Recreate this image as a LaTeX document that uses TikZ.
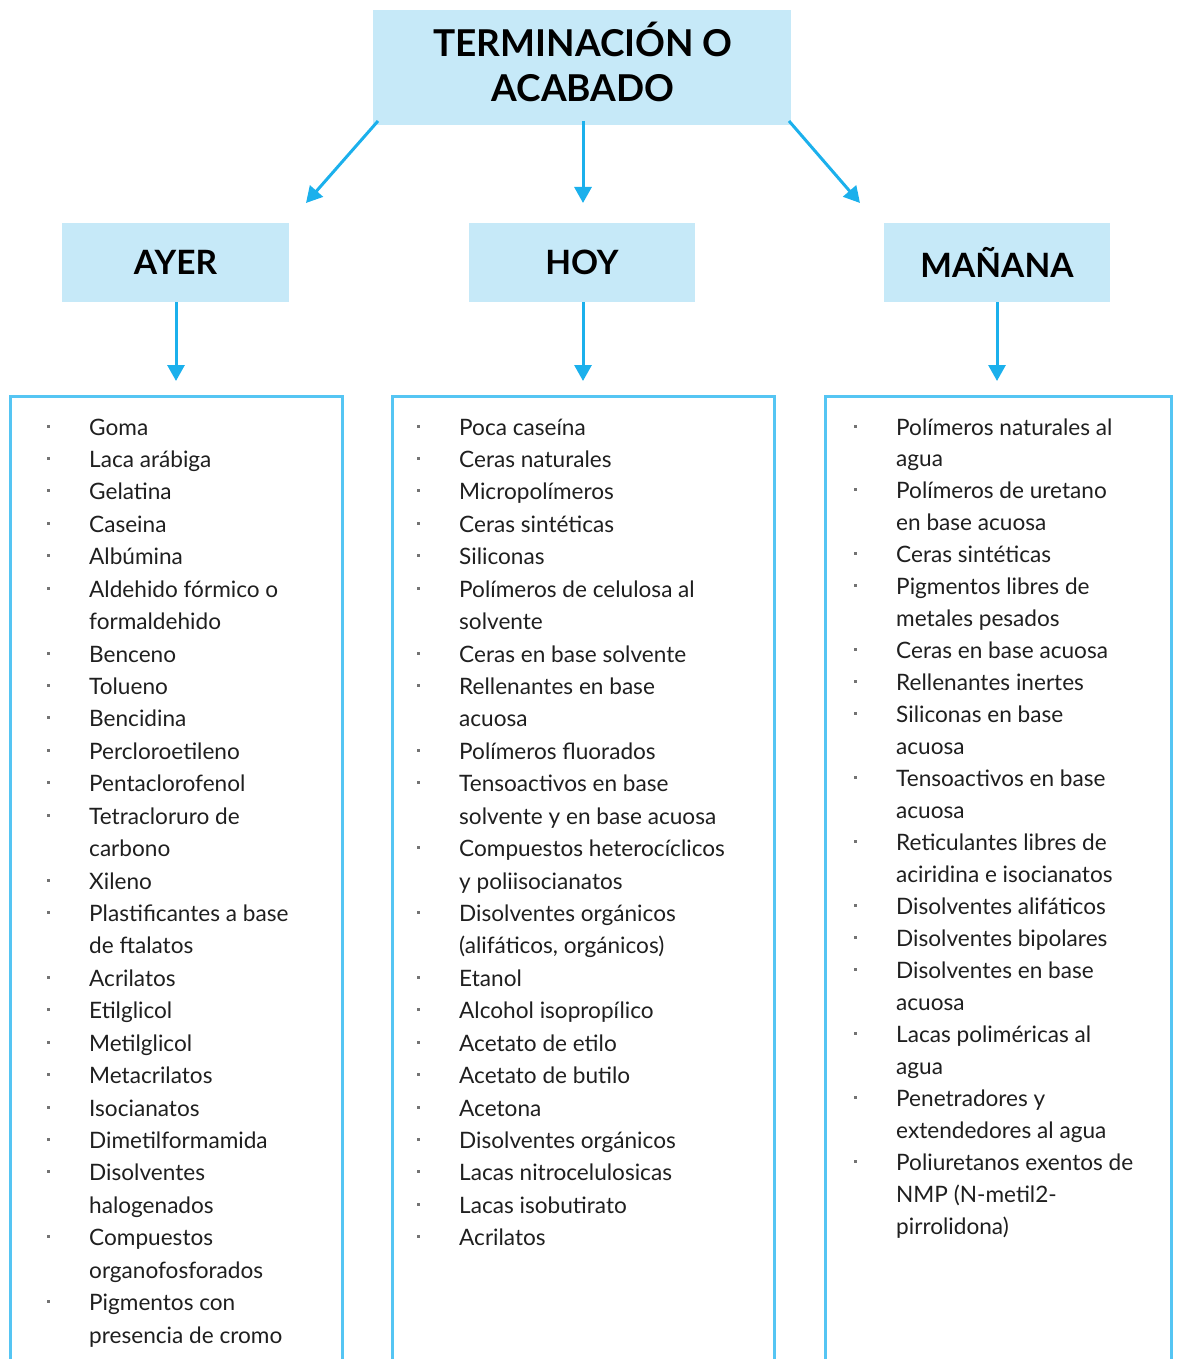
\documentclass[tikz,border=0pt]{standalone}
\usepackage{fontspec}
\setmainfont{Lato}
\usetikzlibrary{arrows.meta}
\definecolor{hdrfill}{HTML}{C6E9F8}
\definecolor{arrowblue}{HTML}{1BB0EC}
\definecolor{frameblue}{HTML}{55C5F3}
\tikzset{
  hdr/.style={fill=hdrfill, draw=none, inner sep=0pt, align=center,
    font=\bfseries\fontsize{33.5}{41}\selectfont, text=black},
  hdrtext/.style={inner sep=0pt, align=center,
    font=\bfseries\fontsize{37}{45}\selectfont, text=black},
  flow/.style={draw=arrowblue, line width=3pt, -{Triangle[width=17pt,length=16pt]}},
  listframe/.style={draw=frameblue, line width=3pt},
  itemtext/.style={anchor=base west, inner sep=0pt,
    font=\fontsize{22.6}{26}\selectfont, text=black!88},
  bulletdot/.style={fill=black!55, draw=none, inner sep=0pt, minimum size=3pt}
}
\begin{document}
\begin{tikzpicture}[x=1pt,y=-1pt]
\useasboundingbox (0,0) rectangle (1176,1359);

% header boxes
\node[hdr, minimum width=418pt, minimum height=115pt] (top) at (582,67.5) {};
\node[hdrtext] (toptext) at (583,62) {TERMINACIÓN O\\ACABADO};
\node[hdr, minimum width=227pt, minimum height=79pt] (ayer) at (175.5,262.5) {AYER};
\node[hdr, minimum width=226pt, minimum height=79pt] (hoy) at (582,262.5) {HOY};
\node[hdr, minimum width=226pt, minimum height=79pt] (manana) at (997,262.5) {MAÑANA};

% arrow ends
\coordinate (tl) at (378,121);
\coordinate (tc) at (583,121);
\coordinate (tr) at (789,121);
\coordinate (al) at (306,203);
\coordinate (ac) at (583,203);
\coordinate (ar) at (860,203);
\coordinate (la) at (176,381);
\coordinate (lb) at (583,381);
\coordinate (lc) at (997,381);

\draw[flow] (tl) -- (al);
\draw[flow] (tc) -- (ac);
\draw[flow] (tr) -- (ar);
\draw[flow] (ayer.south -| la) -- (la);
\draw[flow] (hoy.south -| lb) -- (lb);
\draw[flow] (manana.south -| lc) -- (lc);

% list frames, open at the bottom
\draw[listframe] (10,1362) -- (10,396) -- (342,396) -- (342,1362);
\draw[listframe] (392,1362) -- (392,396) -- (774,396) -- (774,1362);
\draw[listframe] (825,1362) -- (825,396) -- (1171,396) -- (1171,1362);

% AYER list
\foreach \b/\t [count=\i from 0] in {
  1/Goma, 1/Laca arábiga, 1/Gelatina, 1/Caseina, 1/Albúmina,
  1/Aldehido fórmico o, 0/formaldehido, 1/Benceno, 1/Tolueno, 1/Bencidina,
  1/Percloroetileno, 1/Pentaclorofenol, 1/Tetracloruro de, 0/carbono,
  1/Xileno, 1/Plastificantes a base, 0/de ftalatos, 1/Acrilatos,
  1/Etilglicol, 1/Metilglicol, 1/Metacrilatos, 1/Isocianatos,
  1/Dimetilformamida, 1/Disolventes, 0/halogenados, 1/Compuestos,
  0/organofosforados, 1/Pigmentos con, 0/presencia de cromo} {
  \node[itemtext] (a\i) at (89,{435+\i*32.43}) {\t};
  \ifnum\b=1 \node[bulletdot] (adot\i) at (48,{426+\i*32.43}) {};\fi
}

% HOY list
\foreach \b/\t [count=\i from 0] in {
  1/Poca caseína, 1/Ceras naturales, 1/Micropolímeros, 1/Ceras sintéticas,
  1/Siliconas, 1/Polímeros de celulosa al, 0/solvente,
  1/Ceras en base solvente, 1/Rellenantes en base, 0/acuosa,
  1/Polímeros fluorados, 1/Tensoactivos en base, 0/solvente y en base acuosa,
  1/Compuestos heterocíclicos, 0/y poliisocianatos, 1/Disolventes orgánicos,
  {0/(alifáticos, orgánicos)}, 1/Etanol, 1/Alcohol isopropílico,
  1/Acetato de etilo, 1/Acetato de butilo, 1/Acetona,
  1/Disolventes orgánicos, 1/Lacas nitrocelulosicas, 1/Lacas isobutirato,
  1/Acrilatos} {
  \node[itemtext] (b\i) at (459,{435+\i*32.43}) {\t};
  \ifnum\b=1 \node[bulletdot] (bdot\i) at (418,{426+\i*32.43}) {};\fi
}

% MAÑANA list
\foreach \b/\t [count=\i from 0] in {
  1/Polímeros naturales al, 0/agua, 1/Polímeros de uretano, 0/en base acuosa,
  1/Ceras sintéticas, 1/Pigmentos libres de, 0/metales pesados,
  1/Ceras en base acuosa, 1/Rellenantes inertes, 1/Siliconas en base,
  0/acuosa, 1/Tensoactivos en base, 0/acuosa, 1/Reticulantes libres de,
  0/aciridina e isocianatos, 1/Disolventes alifáticos,
  1/Disolventes bipolares, 1/Disolventes en base, 0/acuosa,
  1/Lacas poliméricas al, 0/agua, 1/Penetradores y,
  0/extendedores al agua, 1/Poliuretanos exentos de, 0/NMP (N-metil2-,
  0/pirrolidona)} {
  \node[itemtext] (c\i) at (896,{435+\i*31.96}) {\t};
  \ifnum\b=1 \node[bulletdot] (cdot\i) at (855,{426+\i*31.96}) {};\fi
}
\end{tikzpicture}
\end{document}
